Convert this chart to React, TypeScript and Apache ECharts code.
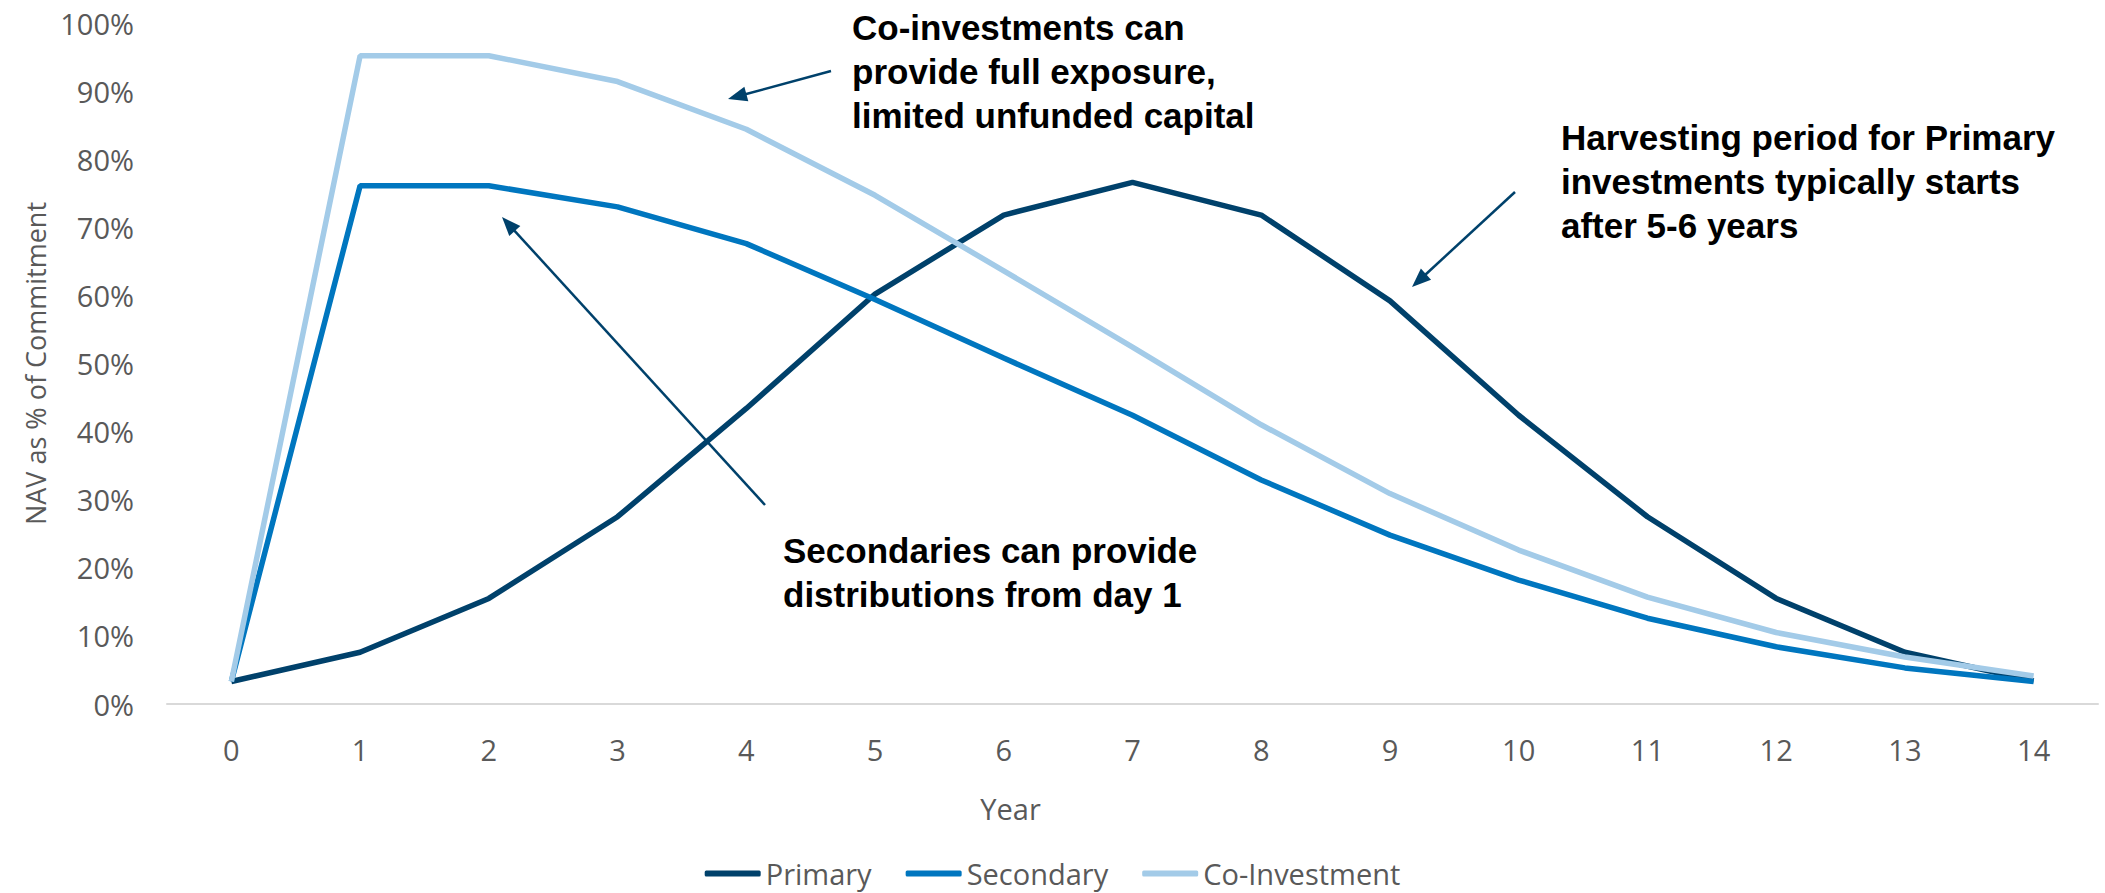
import React, { useEffect, useRef } from "react";
import * as echarts from "echarts";

const years = ["0", "1", "2", "3", "4", "5", "6", "7", "8", "9", "10", "11", "12", "13", "14"];
const primary = [3.3, 7.6, 15.5, 27.5, 43.4, 60.2, 71.8, 76.6, 71.8, 59.2, 42.4, 27.5, 15.5, 7.6, 3.4];
const secondary = [3.3, 76.1, 76.1, 73.0, 67.6, 59.4, 50.8, 42.4, 32.9, 24.8, 18.2, 12.6, 8.4, 5.3, 3.3];
const coInvestment = [3.3, 95.2, 95.2, 91.4, 84.4, 74.7, 63.6, 52.4, 41.0, 30.9, 22.6, 15.7, 10.5, 6.9, 4.1];
const seriesNames = ["Primary", "Secondary", "Co-Investment"];
const colors = ["#00416b", "#0076bf", "#a3cbe8"];

const notes = [
  { text: "Co-investments can\nprovide full exposure,\nlimited unfunded capital", x: 852, y: 5 },
  { text: "Harvesting period for Primary\ninvestments typically starts\nafter 5-6 years", x: 1561, y: 115 },
  { text: "Secondaries can provide\ndistributions from day 1", x: 783, y: 528 },
];
const arrows = [
  { from: [831, 71], to: [728, 99] },
  { from: [765, 505], to: [502, 217] },
  { from: [1515, 192], to: [1412, 287] },
];

const FONT = "'Open Sans', 'Noto Sans', sans-serif";
const GRAY = "#595959";

function arrowElems(from: number[], to: number[], color: string) {
  const dx = to[0] - from[0];
  const dy = to[1] - from[1];
  const len = Math.hypot(dx, dy);
  const ux = dx / len, uy = dy / len;
  const nx = -uy, ny = ux;
  const headLen = 19, headW = 7.5;
  const bx = to[0] - ux * headLen, by = to[1] - uy * headLen;
  return [
    { type: "line", shape: { x1: from[0], y1: from[1], x2: bx + ux * 2, y2: by + uy * 2 }, style: { stroke: color, lineWidth: 2.5 }, silent: true },
    { type: "polygon", shape: { points: [[to[0], to[1]], [bx + nx * headW, by + ny * headW], [bx - nx * headW, by - ny * headW]] }, style: { fill: color }, silent: true },
  ];
}

export default function App() {
  const ref = useRef<HTMLDivElement>(null);
  useEffect(() => {
    document.body.style.margin = "0";
    const chart = echarts.init(ref.current!, undefined, { renderer: "svg" });
    const data = [primary, secondary, coInvestment];
    const graphics: any[] = [];
    notes.forEach((n) => {
      graphics.push({
        type: "text",
        x: n.x,
        y: n.y,
        style: {
          text: n.text,
          fill: "#000000",
          font: "bold 35px 'Liberation Sans', Arial, sans-serif",
          lineHeight: 44,
          verticalAlign: "top",
          align: "left",
        },
      });
    });
    arrows.forEach((a) => graphics.push(...arrowElems(a.from, a.to, "#00416b")));
    chart.setOption({
      animation: false,
      backgroundColor: "#ffffff",
      color: colors,
      grid: { left: 167, right: 7, top: 23, bottom: 189, containLabel: false, outerBoundsMode: "none" },
      legend: {
        data: seriesNames,
        left: "center",
        top: 854,
        itemWidth: 56,
        itemHeight: 6,
        itemGap: 34,
        icon: "roundRect",
        textStyle: { fontFamily: FONT, fontSize: 29, color: GRAY },
      },
      xAxis: {
        type: "category",
        data: years,
        boundaryGap: true,
        name: "Year",
        nameLocation: "middle",
        nameGap: 90,
        nameTextStyle: { fontFamily: FONT, fontSize: 29, color: GRAY, padding: [0, 244, 0, 0] },
        axisLine: { show: true, lineStyle: { color: "#d9d9d9", width: 2 } },
        axisTick: { show: false },
        axisLabel: { fontFamily: FONT, fontSize: 29, color: GRAY, margin: 31 },
        splitLine: { show: false },
      },
      yAxis: {
        type: "value",
        min: 0,
        max: 100,
        interval: 10,
        name: "NAV as % of Commitment",
        nameLocation: "middle",
        nameGap: 118,
        nameTextStyle: { fontFamily: FONT, fontSize: 27, color: GRAY },
        axisLine: { show: false },
        axisTick: { show: false },
        splitLine: { show: false },
        axisLabel: { fontFamily: FONT, fontSize: 29, color: GRAY, margin: 33, formatter: "{value}%" },
      },
      series: seriesNames.map((name, i) => ({
        name,
        type: "line",
        data: data[i],
        symbol: "none",
        lineStyle: { width: 5.5, color: colors[i] },
        itemStyle: { color: colors[i] },
      })),
      graphic: graphics,
    });
    return () => chart.dispose();
  }, []);
  return <div ref={ref} style={{ width: 2105, height: 893 }} />;
}
